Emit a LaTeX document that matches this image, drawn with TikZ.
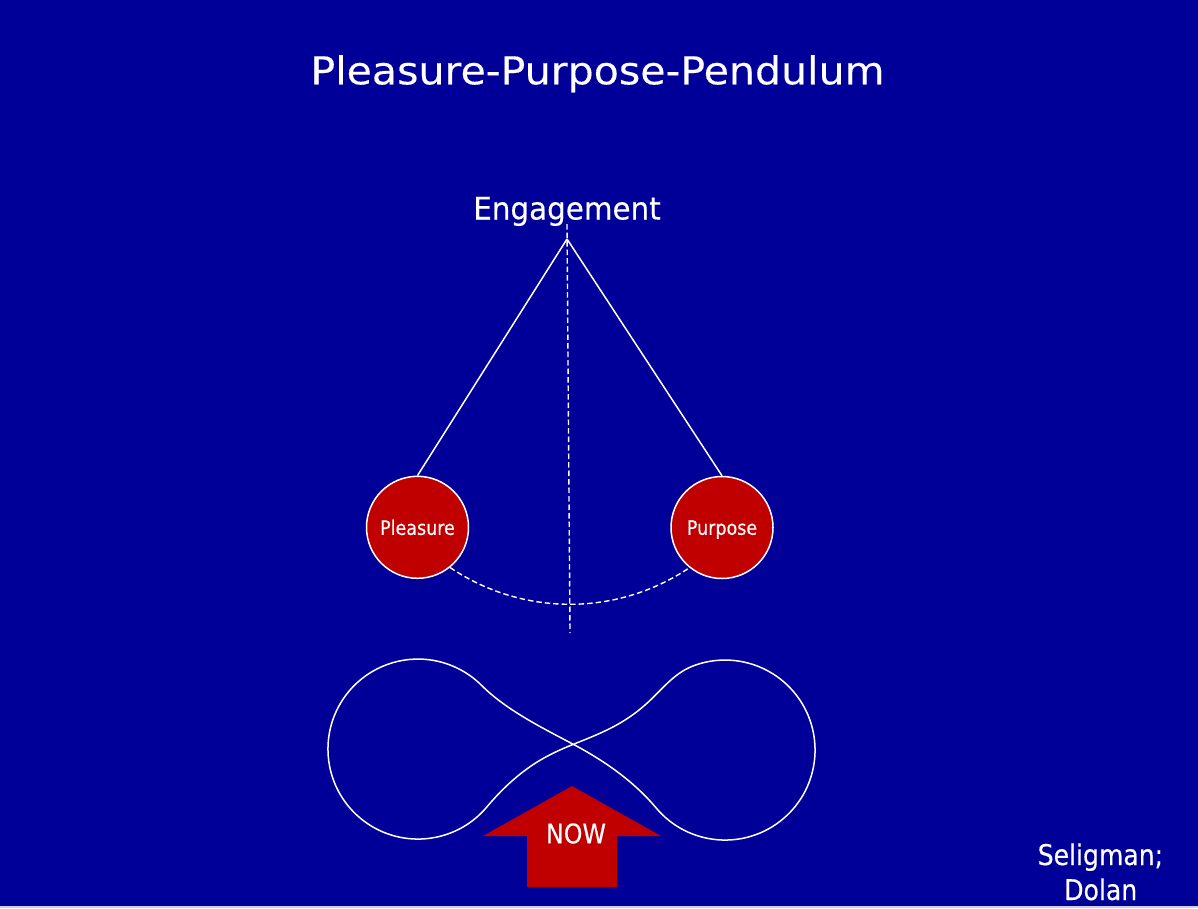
\documentclass[tikz,border=0pt]{standalone}
\usepackage{fontspec}
\setmainfont{DejaVu Sans}
\newfontfamily\ftitle[FakeStretch=1.07,FakeBold=0.3]{DejaVu Sans}
\newfontfamily\feng[FakeStretch=0.945,FakeBold=0.3]{DejaVu Sans}
\newfontfamily\fcond[FakeStretch=0.88,FakeBold=0.3]{DejaVu Sans}
\definecolor{bg}{RGB}{0,0,153}
\definecolor{slidered}{RGB}{192,0,0}
\definecolor{edgeline}{RGB}{205,205,240}
\tikzset{
  wline/.style={draw=white, line width=1.5pt},
  dline/.style={draw=white, line width=1.4pt, dash pattern=on 5.5pt off 3pt},
  ball/.style={circle, draw=white, line width=1.5pt, fill=slidered, minimum size=102pt,
               inner sep=0pt, text=white, text depth=0pt,
               font=\fcond\fontsize{19.9}{24}\selectfont},
  wtext/.style={text=white, inner sep=0pt, anchor=base}
}
\begin{document}
\begin{tikzpicture}[x=1pt,y=-1pt]
\fill[bg] (0,0) rectangle (1198,908);
\useasboundingbox (0,0) rectangle (1198,908);
\draw[edgeline, line width=1.5pt] (0,906.8) -- (1198,906.8);

% title
\node[wtext, font=\ftitle\fontsize{38.4}{46}\selectfont] (title) at (597.5,84.3) {Pleasure-Purpose-Pendulum};

% pendulum
\node[wtext, font=\feng\fontsize{31.1}{37}\selectfont] (eng) at (567,219.5) {Engagement};
\coordinate (pivot) at (567,239);
\coordinate (vtop) at (567,224);
\coordinate (vbot) at (570,633);
\node[ball] (pl) at (417.5,527.3) {Pleasure};
\node[ball] (pu) at (722,527.5) {Purpose};
\draw[wline] (pivot) -- (pl.north);
\draw[wline] (pivot) -- (pu.north);
\draw[dline] (vtop) -- (vbot);
\draw[dline] (pl.-51) .. controls (522,616) and (616,617) .. (pu.-129);

% infinity loop
\coordinate (p0) at (481.6,685.4);
\coordinate (x) at (573.3,744.3);
\coordinate (r1) at (656.1,807.9);
\coordinate (m2) at (645,705);
\coordinate (m3) at (530,766.7);
\coordinate (l1) at (486.9,806.9);
\draw[wline, line join=round]
  (p0) .. controls (506.3,710.1) and (542.4,727.9) .. (x)
       .. controls (604.2,760.7) and (633.6,781.1) .. (r1)
       arc[start angle=140, end angle=-110, radius=90]
       .. controls (673.5,672.9) and (661.5,690.5) .. (m2)
       .. controls (622.5,724.8) and (601.1,733.2) .. (x)
       .. controls (558.5,750.2) and (543.1,757.5) .. (m3)
       .. controls (513.6,778.2) and (499.8,791.6) .. (l1)
       arc[start angle=40, end angle=315, radius=90]
       -- cycle;

% NOW arrow
\fill[slidered] (572,786) -- (661,836) -- (617,836) -- (617,887) -- (527,887)
  -- (527,836) -- (483,836) -- cycle;
\node[wtext, font=\fcond\fontsize{27}{32}\selectfont] (now) at (576,843.3) {NOW};

% credit
\node[wtext, font=\fcond\fontsize{28.5}{34}\selectfont] (sel) at (1100.4,865) {Seligman;};
\node[wtext, font=\fcond\fontsize{28.5}{34}\selectfont] (dol) at (1100.7,900) {Dolan};
\end{tikzpicture}
\end{document}
